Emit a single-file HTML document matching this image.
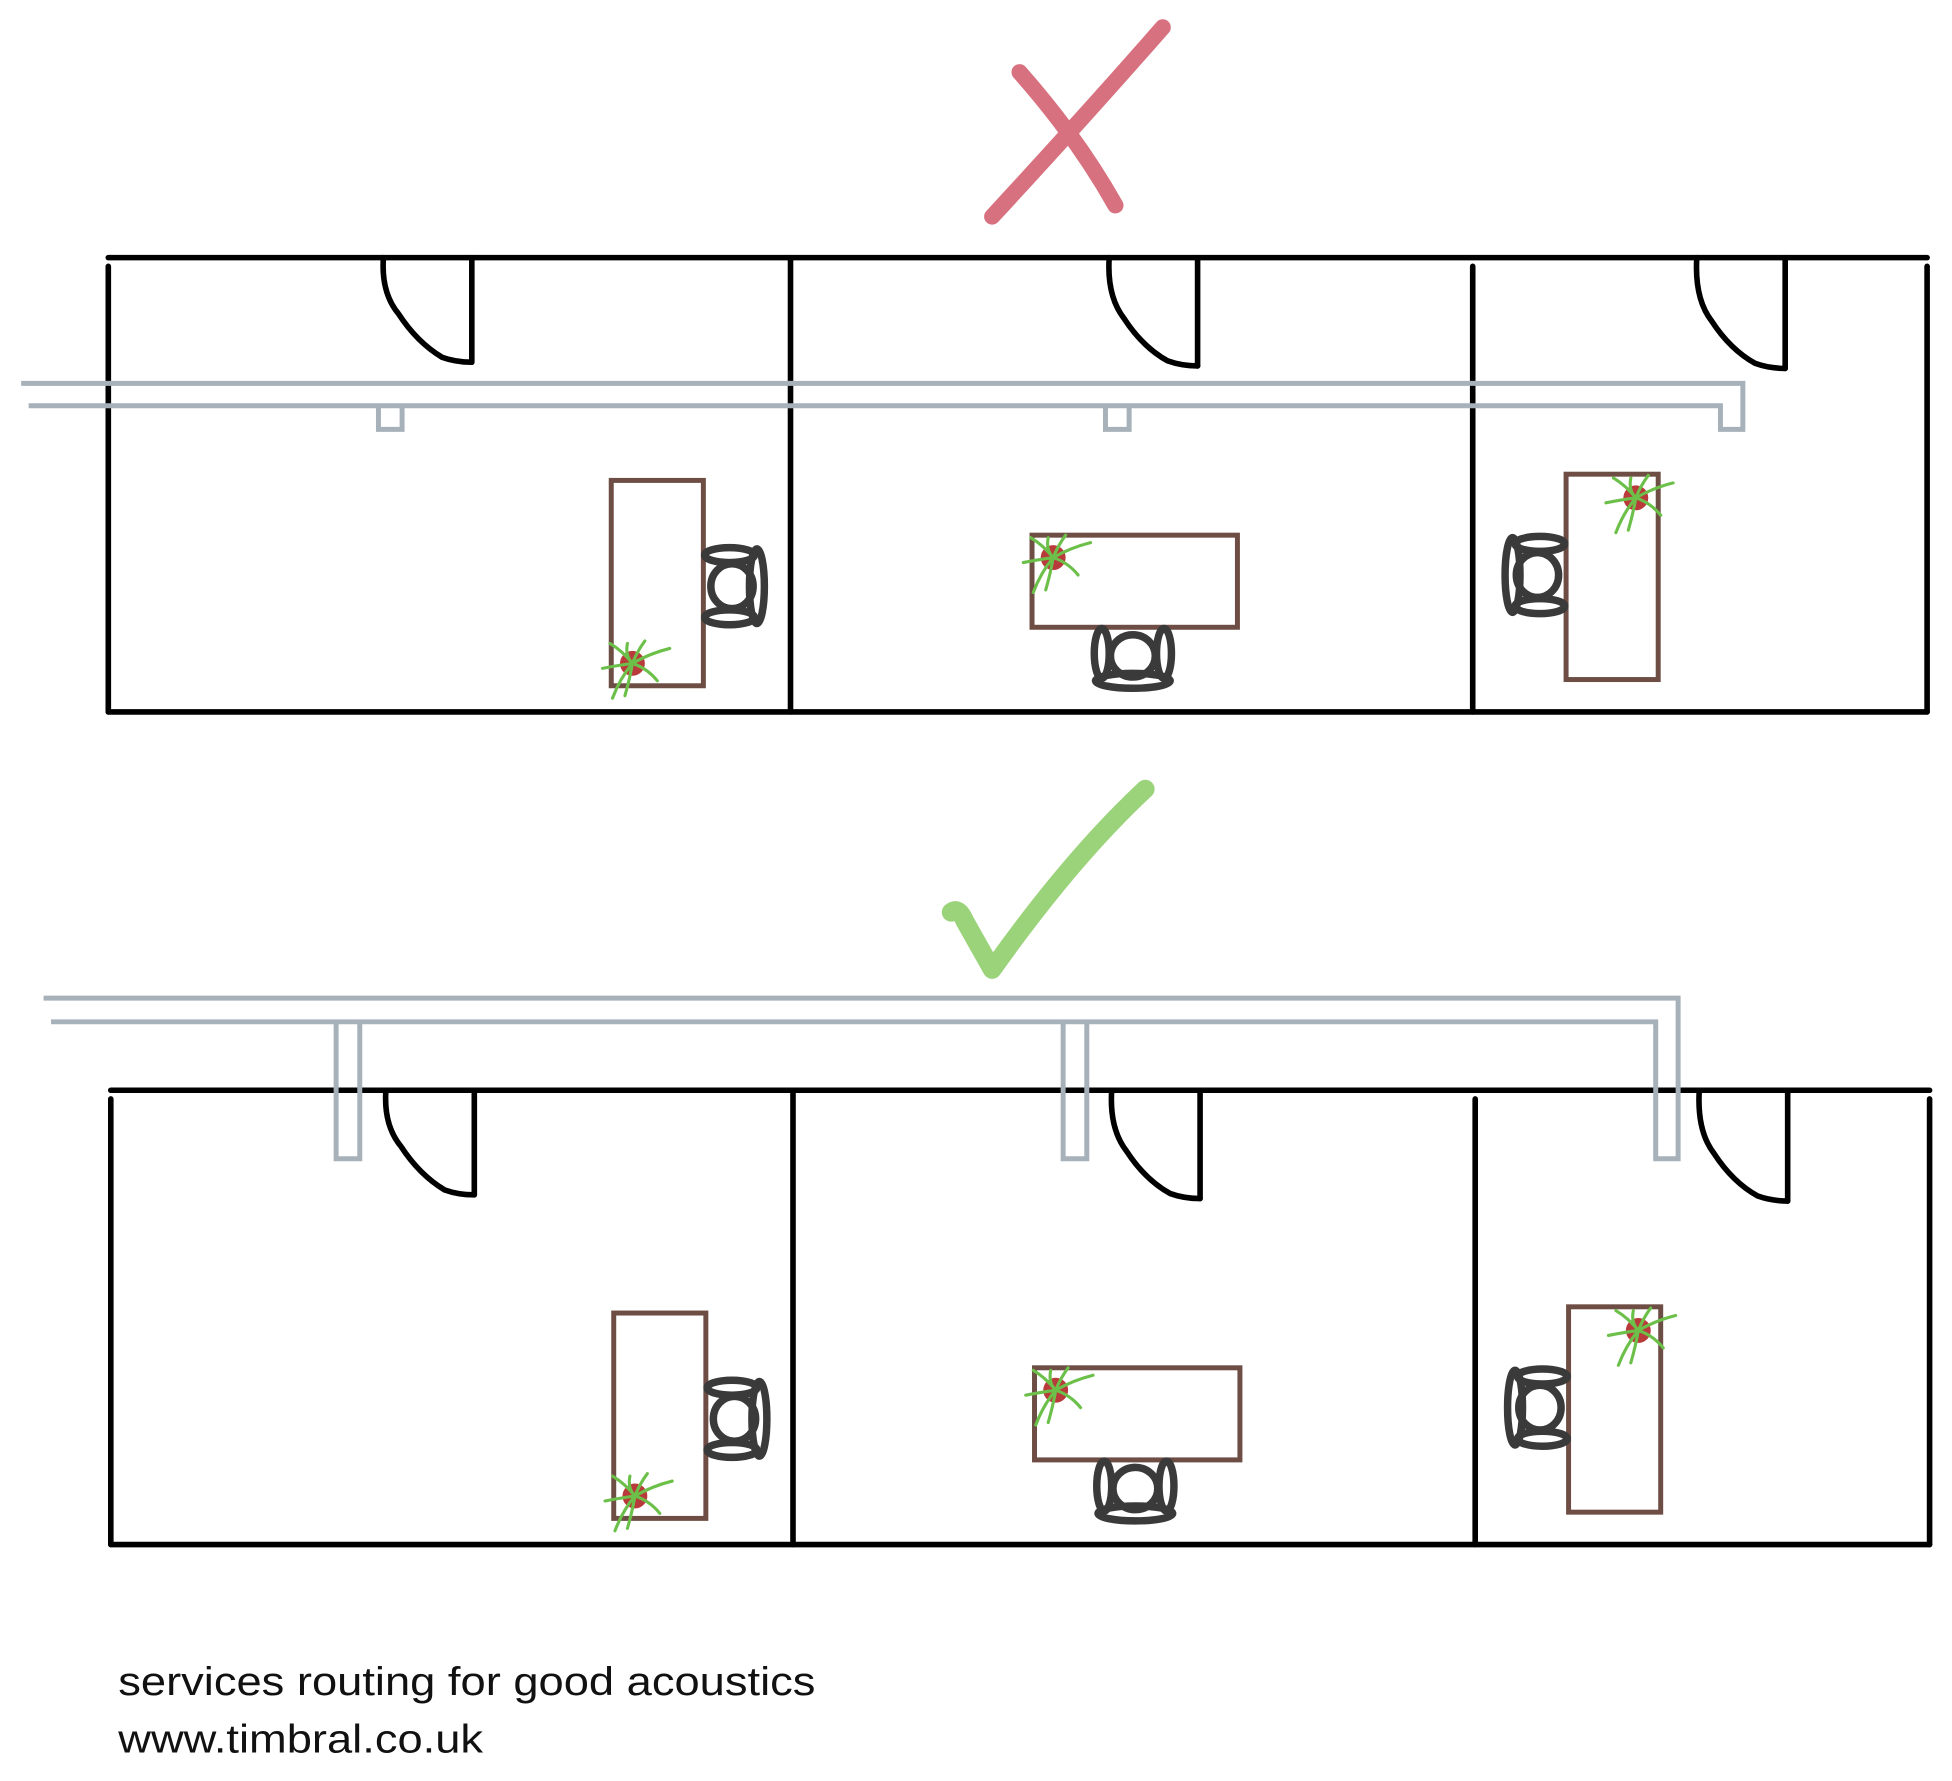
<!DOCTYPE html>
<html><head><meta charset="utf-8"><style>
html,body{margin:0;padding:0;background:#fff;width:1952px;height:1781px;overflow:hidden}
svg{display:block}
</style></head><body>
<svg width="1952" height="1781" viewBox="0 0 1568 1431" preserveAspectRatio="none" xmlns="http://www.w3.org/2000/svg">
<defs>
  <g id="chairR" fill="none" stroke="#3a3a3a" stroke-width="6" stroke-linecap="round">
    <ellipse cx="0" cy="0" rx="17" ry="18"/>
    <ellipse cx="-2" cy="-25" rx="20" ry="6"/>
    <ellipse cx="-2" cy="25" rx="20" ry="6"/>
    <ellipse cx="20" cy="0" rx="6" ry="30"/>
  </g>
  <g id="plant">
    <circle cx="0" cy="0" r="10" fill="#b93a3a"/>
    <g fill="none" stroke="#6cc04a" stroke-width="2.5" stroke-linecap="round">
      <path d="M0 0 Q-8 -10 -18 -16"/>
      <path d="M0 0 Q14 -8 30 -12"/>
      <path d="M0 0 Q-14 2 -24 4"/>
      <path d="M0 0 Q-10 12 -16 28"/>
      <path d="M0 0 Q-2 12 -6 26"/>
      <path d="M0 0 Q12 4 20 14"/>
      <path d="M0 0 Q4 -10 10 -18"/>
      <path d="M0 0 Q-6 -6 -4 -16"/>
    </g>
  </g>
  <g id="rooms" fill="none" stroke-linecap="round">
    <g stroke="#000" stroke-width="4.5">
      <line x1="87" y1="207" x2="1548" y2="207"/>
      <line x1="87" y1="572" x2="1548" y2="572"/>
      <line x1="87" y1="214" x2="87" y2="572"/>
      <line x1="635" y1="207" x2="635" y2="572"/>
      <line x1="1183" y1="214" x2="1183" y2="572"/>
      <line x1="1548" y1="214" x2="1548" y2="572"/>
      <line x1="379" y1="207" x2="379" y2="291"/>
      <line x1="962" y1="207" x2="962" y2="294"/>
      <line x1="1434" y1="207" x2="1434" y2="296"/>
      <path d="M308 207 Q306 235 320 252 Q335 275 355 287 Q366 291 379 291"/>
      <path d="M891 207 Q889 238 903 256 Q918 279 938 290 Q949 294 962 294"/>
      <path d="M1363 207 Q1361 240 1375 258 Q1390 281 1410 292 Q1421 296 1434 296"/>
    </g>
    <g stroke="#6e4e44" stroke-width="4">
      <rect x="491" y="386" width="74" height="165"/>
      <rect x="829" y="430" width="165" height="74"/>
      <rect x="1258" y="381" width="74" height="165"/>
    </g>
    <use href="#chairR" x="588" y="471"/>
    <use href="#chairR" transform="translate(910 527) rotate(90)"/>
    <use href="#chairR" transform="translate(1235 462) rotate(180)"/>
    <use href="#plant" x="508" y="533"/>
    <use href="#plant" x="846" y="448"/>
    <use href="#plant" x="1314" y="400"/>
  </g>
</defs>

<g stroke="#d8717f" stroke-width="13" stroke-linecap="round" fill="none">
  <path d="M819 58 Q865 110 896 165"/>
  <path d="M934 22 Q870 95 797 174"/>
</g>

<use href="#rooms"/>
<g fill="none" stroke="#a7b1b9" stroke-width="4">
  <path d="M17 308 H1400 V345 H1382 V326 H23"/>
  <path d="M304 326 V345 H323 V326"/>
  <path d="M888 326 V345 H907 V326"/>
</g>

<path d="M764 733 Q770 728 775 740 L797 779 Q860 690 920 634" fill="none" stroke="#9ad37a" stroke-width="15" stroke-linecap="round" stroke-linejoin="round"/>

<use href="#rooms" transform="translate(2 669)"/>
<g fill="none" stroke="#a7b1b9" stroke-width="4">
  <path d="M35 802 H1348 V931 H1330 V821 H41"/>
  <path d="M270 821 V931 H289 V821"/>
  <path d="M854 821 V931 H873 V821"/>
</g>

<g font-family="'Liberation Sans', sans-serif" font-size="32" fill="#111">
  <text x="95" y="1362" textLength="560" lengthAdjust="spacingAndGlyphs">services routing for good acoustics</text>
  <text x="95" y="1408" textLength="293" lengthAdjust="spacingAndGlyphs">www.timbral.co.uk</text>
</g>
</svg>
</body></html>
